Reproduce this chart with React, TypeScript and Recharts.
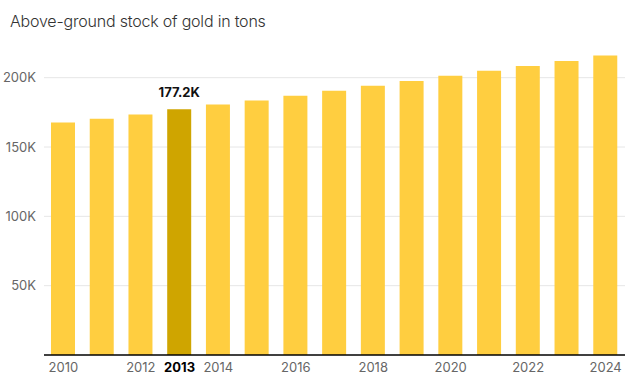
import { BarChart, Bar, XAxis, YAxis, CartesianGrid, Cell, LabelList } from 'recharts';

const years = ['2010', '2011', '2012', '2013', '2014', '2015', '2016', '2017', '2018', '2019', '2020', '2021', '2022', '2023', '2024'];
const stock = [167600, 170400, 173400, 177200, 180600, 183600, 187000, 190600, 194100, 197600, 201300, 204900, 208500, 212100, 215900];
const yTicks = [50000, 100000, 150000, 200000];
const shownYears = ['2010', '2012', '2013', '2014', '2016', '2018', '2020', '2022', '2024'];
const highlight = '2013';

const data = years.map((year, i) => ({ year, value: stock[i] }));

const FONT = 'Inter, "Noto Sans", sans-serif';

const XTick = (props: any) => {
  const { x, y, payload } = props;
  if (!shownYears.includes(payload.value)) return null;
  const hot = payload.value === highlight;
  return (
    <text
      x={x}
      y={y}
      dy="0.71em"
      textAnchor="middle"
      fontFamily={FONT}
      fontSize={13}
      fontWeight={hot ? 700 : 400}
      fill={hot ? '#000' : '#666'}
    >
      {payload.value}
    </text>
  );
};

const HighlightLabel = (props: any) => {
  const { x, y, width, index, value } = props;
  if (data[index].year !== highlight) return null;
  return (
    <text
      x={x + width / 2}
      y={y - 12}
      textAnchor="middle"
      fontFamily={FONT}
      fontSize={13}
      fontWeight={700}
      fill="#111"
    >
      {(value / 1000).toFixed(1)}K
    </text>
  );
};

export default function App() {
  return (
    <div style={{ position: 'absolute', left: 0, top: 0, width: 637, height: 389, background: '#fff' }}>
      <div
        style={{
          position: 'absolute',
          left: 10,
          top: 11,
          fontFamily: FONT,
          fontSize: 16,
          fontWeight: 300,
          color: '#333',
          letterSpacing: -0.2,
        }}
      >
        Above-ground stock of gold in tons
      </div>
      <div style={{ position: 'absolute', left: 0, top: 30 }}>
        <BarChart width={637} height={359} data={data} margin={{ top: 13, right: 12, bottom: 0, left: 0 }}>
          <CartesianGrid vertical={false} stroke="#e6e6e6" horizontalValues={yTicks} />
          <XAxis
            dataKey="year"
            interval={0}
            tick={<XTick />}
            tickLine={false}
            axisLine={{ stroke: '#000', strokeWidth: 1.5 }}
            height={34}
          />
          <YAxis
            width={44}
            domain={[0, 225000]}
            ticks={yTicks}
            tickFormatter={(v: number) => `${v / 1000}K`}
            tickLine={false}
            axisLine={false}
            tick={{ fill: '#666', fontSize: 13, fontFamily: FONT }}
          />
          <Bar dataKey="value" barSize={24} isAnimationActive={false}>
            {data.map((d) => (
              <Cell key={d.year} fill={d.year === highlight ? '#CFA500' : '#FFCE40'} />
            ))}
            <LabelList dataKey="value" content={<HighlightLabel />} />
          </Bar>
        </BarChart>
      </div>
    </div>
  );
}
